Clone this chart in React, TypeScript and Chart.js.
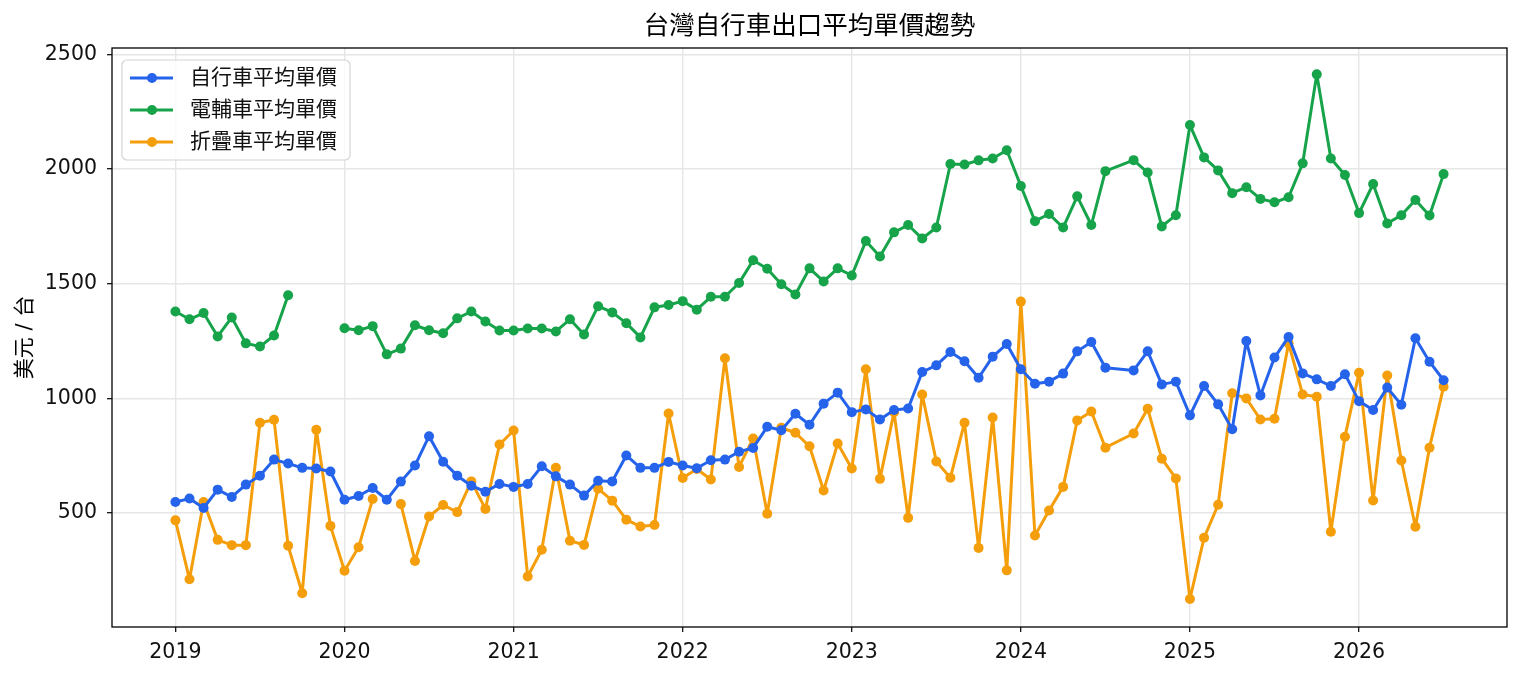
import { useEffect, useRef } from "react";
import { Chart, registerables } from "chart.js";

Chart.register(...registerables);

// 2024-08 has no row in the source data, so it is simply left out
const months = [
  "2019-01", "2019-02", "2019-03", "2019-04", "2019-05", "2019-06", "2019-07", "2019-08", "2019-09", "2019-10", "2019-11", "2019-12",
  "2020-01", "2020-02", "2020-03", "2020-04", "2020-05", "2020-06", "2020-07", "2020-08", "2020-09", "2020-10", "2020-11", "2020-12",
  "2021-01", "2021-02", "2021-03", "2021-04", "2021-05", "2021-06", "2021-07", "2021-08", "2021-09", "2021-10", "2021-11", "2021-12",
  "2022-01", "2022-02", "2022-03", "2022-04", "2022-05", "2022-06", "2022-07", "2022-08", "2022-09", "2022-10", "2022-11", "2022-12",
  "2023-01", "2023-02", "2023-03", "2023-04", "2023-05", "2023-06", "2023-07", "2023-08", "2023-09", "2023-10", "2023-11", "2023-12",
  "2024-01", "2024-02", "2024-03", "2024-04", "2024-05", "2024-06", "2024-07", "2024-09", "2024-10", "2024-11", "2024-12",
  "2025-01", "2025-02", "2025-03", "2025-04", "2025-05", "2025-06", "2025-07", "2025-08", "2025-09", "2025-10", "2025-11", "2025-12",
  "2026-01", "2026-02", "2026-03", "2026-04", "2026-05", "2026-06", "2026-07",
];

const bikePrice = [
  548, 563, 522, 602, 570, 624, 663, 733, 716, 697, 694, 681,
  558, 574, 609, 558, 637, 707, 835, 724, 663, 619, 593, 627,
  614, 627, 704, 660, 624, 576, 641, 638, 751, 697, 697, 723,
  707, 695, 730, 733, 767, 784, 876, 861, 933, 885, 977, 1025,
  940, 952, 908, 949, 956, 1115, 1144, 1202, 1162, 1090, 1182, 1237,
  1127, 1064, 1073, 1108, 1205, 1246, 1134, 1122, 1205, 1061, 1073,
  926, 1054, 974, 865, 1250, 1013, 1178, 1268, 1109, 1083, 1054, 1105,
  988, 949, 1047, 972, 1262, 1160, 1079,
];

const ebikePrice = [
  1379, 1345, 1372, 1270, 1353, 1240, 1226, 1274, 1450, null, null, null,
  1306, 1297, 1315, 1192, 1217, 1319, 1297, 1284, 1349, 1379, 1335, 1296,
  1296, 1305, 1305, 1292, 1345, 1279, 1402, 1375, 1328, 1266, 1397, 1407,
  1424, 1387, 1443, 1443, 1503, 1602, 1565, 1498, 1453, 1567, 1510, 1567,
  1536, 1686, 1619, 1724, 1756, 1697, 1745, 2022, 2020, 2038, 2046, 2082,
  1926, 1773, 1804, 1745, 1881, 1756, 1991, 2039, 1985, 1750, 1799,
  2192, 2051, 1994, 1895, 1921, 1870, 1855, 1877, 2025, 2413, 2046, 1974,
  1808, 1935, 1763, 1799, 1865, 1798, 1978,
];

const foldingPrice = [
  468, 211, 548, 383, 360, 360, 894, 907, 357, 150, 863, 444,
  248, 351, 561, null, 539, 291, 485, 535, 504, 638, 518, 799,
  860, 223, 340, 697, 379, 361, 606, 554, 471, 441, 448, 934,
  653, 692, 646, 1175, 701, 825, 497, 872, 850, 791, 598, 803,
  694, 1127, 649, 940, 479, 1017, 725, 654, 894, 348, 917, 250,
  1422, 402, 511, 614, 904, 943, 785, 847, 955, 737, 651,
  125, 392, 536, 1022, 1000, 908, 911, 1240, 1017, 1007, 418, 833,
  1112, 555, 1100, 729, 440, 785, 1051,
];

const seriesNames = ["自行車平均單價", "電輔車平均單價", "折疊車平均單價"];
const seriesColors = ["#2563eb", "#16a34a", "#f59e0b"];

const xTicks = [2019, 2020, 2021, 2022, 2023, 2024, 2025, 2026];
const yTicks = [500, 1000, 1500, 2000, 2500];

const chartTitle = "台灣自行車出口平均單價趨勢";
const yLabel = "美元 / 台";

const FONT = '"DejaVu Sans", "Noto Sans CJK TC", sans-serif';

const toYear = (m: string) => {
  const [y, mo] = m.split("-").map(Number);
  return y + (mo - 1) / 12;
};

const toPoints = (values: (number | null)[]) =>
  months.map((m, i) => ({ x: toYear(m), y: values[i] }));

// title, y label, axes frame and the legend box, drawn the way matplotlib does
const decorations = {
  id: "decorations",
  afterDatasetsDraw(chart: any) {
    const { ctx, chartArea } = chart;
    ctx.save();
    ctx.strokeStyle = "#000";
    ctx.lineWidth = 1.3;
    ctx.strokeRect(
      chartArea.left,
      chartArea.top,
      chartArea.right - chartArea.left,
      chartArea.bottom - chartArea.top
    );
    ctx.restore();
  },
  afterDraw(chart: any) {
    const { ctx, chartArea } = chart;
    ctx.save();

    ctx.fillStyle = "#000";
    ctx.font = `25.5px ${FONT}`;
    ctx.textAlign = "center";
    ctx.textBaseline = "middle";
    ctx.fillText(chartTitle, (chartArea.left + chartArea.right) / 2, 27);

    ctx.save();
    ctx.translate(26, (chartArea.top + chartArea.bottom) / 2);
    ctx.rotate(-Math.PI / 2);
    ctx.font = `21px ${FONT}`;
    ctx.fillText(yLabel, 0, 0);
    ctx.restore();

    const bx = chartArea.left + 10;
    const by = chartArea.top + 12;
    ctx.fillStyle = "rgba(255,255,255,0.8)";
    ctx.strokeStyle = "#d4d4d4";
    ctx.lineWidth = 1.2;
    ctx.beginPath();
    ctx.roundRect(bx, by, 228, 100, 5);
    ctx.fill();
    ctx.stroke();

    ctx.font = `21px ${FONT}`;
    ctx.textAlign = "left";
    ctx.textBaseline = "middle";
    chart.data.datasets.forEach((ds: any, i: number) => {
      const cy = by + 18 + i * 32;
      ctx.strokeStyle = ds.borderColor;
      ctx.lineWidth = 3;
      ctx.beginPath();
      ctx.moveTo(bx + 8, cy);
      ctx.lineTo(bx + 51, cy);
      ctx.stroke();
      ctx.fillStyle = ds.borderColor;
      ctx.beginPath();
      ctx.arc(bx + 30, cy, 5, 0, Math.PI * 2);
      ctx.fill();
      ctx.fillStyle = "#111";
      ctx.fillText(ds.label, bx + 68, cy + 1);
    });

    ctx.restore();
  },
};

const PriceTrendChart = () => {
  const chartRef = useRef<HTMLCanvasElement>(null);
  const chartInstance = useRef<Chart | null>(null);

  useEffect(() => {
    if (!chartRef.current) return;
    if (chartInstance.current) chartInstance.current.destroy();

    const series = [bikePrice, ebikePrice, foldingPrice];
    const grid = {
      color: "#e6e6e6",
      lineWidth: 1.4,
      tickColor: "#000",
      tickLength: 5,
      tickWidth: 1.2,
    };

    chartInstance.current = new Chart(chartRef.current, {
      type: "line",
      data: {
        datasets: series.map((values, i) => ({
          label: seriesNames[i],
          data: toPoints(values),
          borderColor: seriesColors[i],
          backgroundColor: seriesColors[i],
          pointBackgroundColor: seriesColors[i],
          pointBorderWidth: 0,
          pointRadius: 5,
          borderWidth: 3,
          borderJoinStyle: "round",
          borderCapStyle: "round",
          spanGaps: false,
          tension: 0,
        })),
      },
      plugins: [decorations],
      options: {
        animation: false,
        responsive: true,
        maintainAspectRatio: false,
        layout: { padding: { top: 48, right: 15, left: 0, bottom: 0 } },
        plugins: {
          legend: { display: false },
          title: { display: false },
          tooltip: { enabled: false },
        },
        scales: {
          x: {
            type: "linear",
            min: 2018.625,
            max: 2026.875,
            afterBuildTicks: (scale: any) => {
              scale.ticks = xTicks.map((v) => ({ value: v }));
            },
            afterFit: (scale: any) => {
              scale.height = 50;
            },
            ticks: {
              color: "#111",
              padding: 8,
              maxRotation: 0,
              font: { family: FONT, size: 20.5 },
              callback: (v: any) => String(v),
            },
            grid,
            border: { display: false },
          },
          y: {
            min: 3,
            max: 2528,
            afterBuildTicks: (scale: any) => {
              scale.ticks = yTicks.map((v) => ({ value: v }));
            },
            afterFit: (scale: any) => {
              scale.width = 112;
            },
            ticks: {
              color: "#111",
              padding: 10,
              font: { family: FONT, size: 20.5 },
              callback: (v: any) => String(v),
            },
            grid,
            border: { display: false },
          },
        },
      },
    });

    return () => {
      if (chartInstance.current) {
        chartInstance.current.destroy();
        chartInstance.current = null;
      }
    };
  }, []);

  return (
    <div
      style={{
        position: "fixed",
        left: 0,
        top: 0,
        width: "1522px",
        height: "677px",
        background: "#fff",
      }}
    >
      <canvas ref={chartRef}></canvas>
    </div>
  );
};

export default function App() {
  return <PriceTrendChart />;
}
